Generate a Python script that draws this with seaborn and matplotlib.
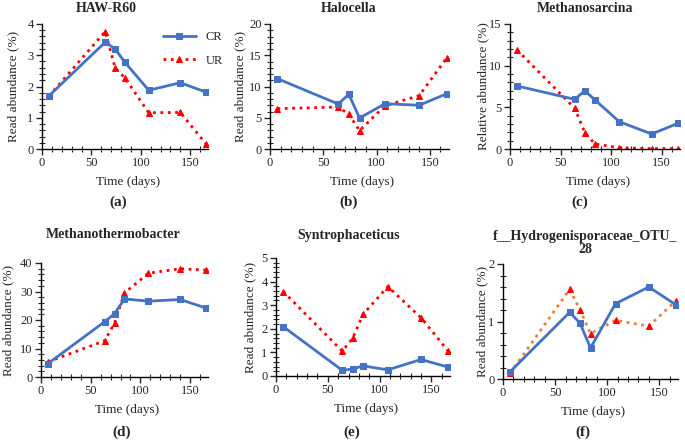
import numpy as np
import pandas as pd
import matplotlib
matplotlib.use('Agg')
import matplotlib.pyplot as plt
import seaborn as sns
from matplotlib.ticker import MultipleLocator, AutoMinorLocator

# sampling days
days = [7, 64, 74, 84, 108, 140, 166]

titles = ['HAW-R60', 'Halocella', 'Methanosarcina',
          'Methanothermobacter', 'Syntrophaceticus', 'f__Hydrogenisporaceae_OTU_\n28']
panel_tags = ['(a)', '(b)', '(c)', '(d)', '(e)', '(f)']
ylabels = ['Read abundance (%)', 'Read abundance (%)', 'Relative abundance (%)',
           'Read abundance (%)', 'Read abundance (%)', 'Read abundance (%)']

cr_haw = [1.70, 3.42, 3.20, 2.77, 1.88, 2.12, 1.82]
ur_haw = [1.69, 3.76, 2.60, 2.27, 1.16, 1.17, 0.16]
cr_halo = [11.25, 7.2, 8.75, 4.96, 7.25, 7.0, 8.85]
ur_halo = [6.45, 6.72, 5.55, 2.93, 6.93, 8.53, 14.6]
cr_msar = [7.56, 5.96, 7.0, 5.88, 3.28, 1.8, 3.08]
ur_msar = [11.88, 4.88, 1.96, 0.6, 0.16, 0.04, 0.04]
cr_mth = [4.7, 19.4, 22.2, 27.4, 26.6, 27.2, 24.2]
ur_mth = [5.3, 12.7, 18.9, 29.5, 36.4, 38.0, 37.5]
cr_syn = [2.09, 0.24, 0.30, 0.43, 0.26, 0.70, 0.38]
ur_syn = [3.58, 1.05, 1.60, 2.61, 3.79, 2.47, 1.07]
cr_hyd = [0.13, 1.16, 0.97, 0.54, 1.31, 1.60, 1.29]
ur_hyd = [0.10, 1.56, 1.20, 0.79, 1.02, 0.92, 1.36]

cr_all = [cr_haw, cr_halo, cr_msar, cr_mth, cr_syn, cr_hyd]
ur_all = [ur_haw, ur_halo, ur_msar, ur_mth, ur_syn, ur_hyd]
ymax = [4, 20, 15, 40, 5, 2]
ystep = [1, 5, 5, 10, 1, 1]

sns.set_style('ticks')
plt.rcParams['font.family'] = 'serif'
plt.rcParams['font.serif'] = ['Liberation Serif', 'DejaVu Serif']
plt.rcParams['axes.linewidth'] = 1.0
plt.rcParams['axes.edgecolor'] = '#000000'

W, H = 685, 442
fig = plt.figure(figsize=(W / 100, H / 100), dpi=100)

# axes boxes in pixels: left, top, right, bottom
boxes = [(42, 24, 208, 149), (270, 24, 449, 149), (510, 24, 680, 149),
         (41, 263, 208, 377), (276, 258, 450, 376), (503, 264, 678, 379)]
title_pos = [(106, 8), (349, 8), (585, 8), (113, 235), (349, 235), (585, 243)]
tag_pos = [(118, 202), (349, 202), (580, 202), (122, 432), (352, 432), (583, 432)]
ylab_x = [13, 240, 483, 8, 250, 482]

blue = '#4472C4'
red = '#FF0000'
orange = '#ED7D31'

for i in range(6):
    l, t, r, b = boxes[i]
    ax = fig.add_axes([l / W, 1 - b / H, (r - l) / W, (b - t) / H])
    df = pd.DataFrame({'day': days, 'CR': cr_all[i], 'UR': ur_all[i]})
    ur_line = orange if i == 5 else red
    sns.lineplot(data=df, x='day', y='UR', ax=ax, color=ur_line, linestyle=':',
                 linewidth=2, marker='^', markersize=5, markerfacecolor=red,
                 markeredgecolor=red, label='UR', zorder=2)
    sns.lineplot(data=df, x='day', y='CR', ax=ax, color=blue, linewidth=2,
                 marker='s', markersize=4.5, markerfacecolor=blue,
                 markeredgecolor=blue, label='CR', zorder=3)
    ax.set_xlim(0, 168)
    ax.set_ylim(0, ymax[i])
    ax.xaxis.set_major_locator(MultipleLocator(50))
    ax.xaxis.set_minor_locator(MultipleLocator(10))
    ax.yaxis.set_major_locator(MultipleLocator(ystep[i]))
    ax.yaxis.set_minor_locator(AutoMinorLocator(5))
    ax.tick_params(which='major', direction='out', length=4, width=1,
                   labelsize=9, pad=2)
    ax.tick_params(which='minor', direction='inout', length=4, width=0.8)
    sns.despine(ax=ax)
    ax.set_xlabel('')
    ax.set_ylabel('')
    fig.text(ylab_x[i] / W, 1 - ((t + b) / 2) / H, ylabels[i], rotation=90,
             ha='center', va='center', fontsize=9.5)
    fig.text((l + r) / 2 / W + 0.004, 1 - (b + 33) / H, 'Time (days)',
             ha='center', va='center', fontsize=9.5)
    fig.text(title_pos[i][0] / W, 1 - title_pos[i][1] / H, titles[i],
             ha='center', va='center', fontsize=10, fontweight='bold',
             linespacing=1.0)
    fig.text(tag_pos[i][0] / W, 1 - tag_pos[i][1] / H, panel_tags[i],
             ha='center', va='center', fontsize=11, fontweight='bold')
    if i == 0:
        h, lab = ax.get_legend_handles_labels()
        ax.legend(h[::-1], lab[::-1], loc='upper right', frameon=False,
                  fontsize=9, handlelength=2.6, borderaxespad=0.0,
                  bbox_to_anchor=(1.12, 0.98), labelspacing=0.9)
    else:
        ax.get_legend().remove()

fig.savefig('out.png', dpi=100, facecolor='white')
